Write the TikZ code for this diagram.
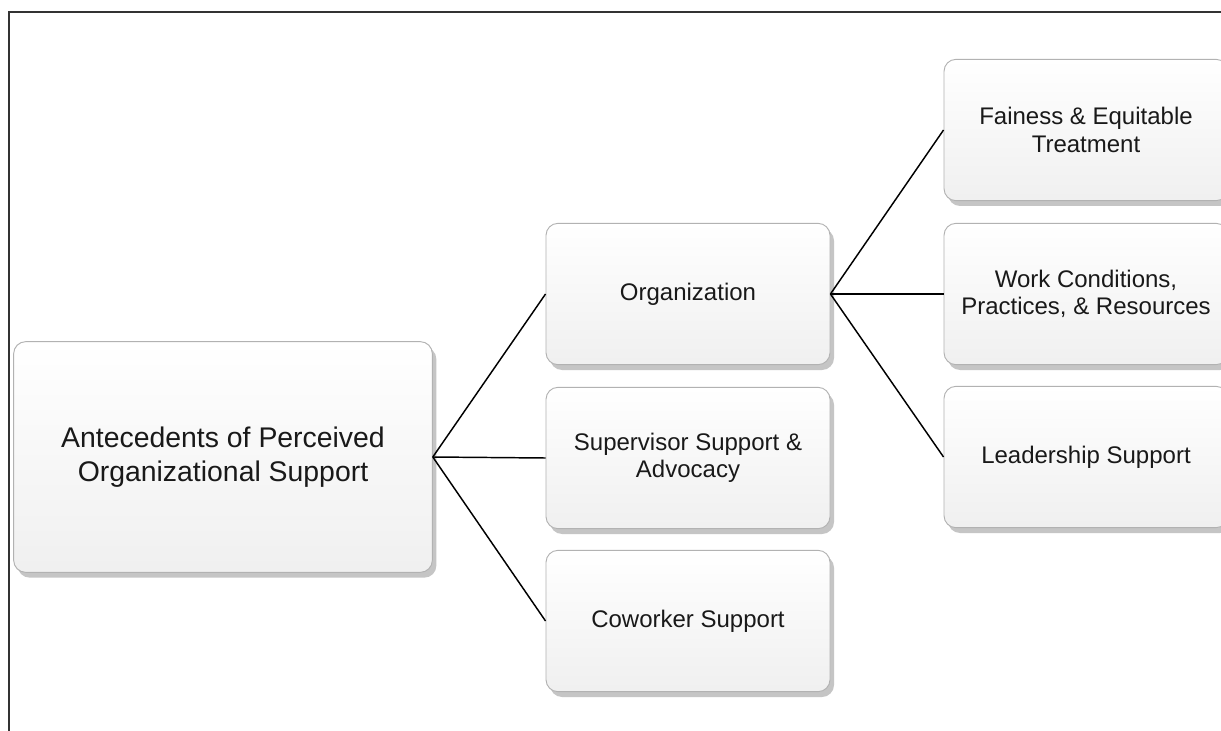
\documentclass[tikz,border=0pt]{standalone}
\usepackage{fontspec}
\setmainfont{Liberation Sans}
\usepackage{tikz}
\usetikzlibrary{shadows}

\begin{document}
\begin{tikzpicture}[x=0.75pt,y=-0.75pt,
  card/.style={draw=gray!60, line width=0.7pt, rounded corners=9pt,
    top color=white, bottom color=gray!12, text=black!90, align=center,
    minimum width=213pt, minimum height=106pt, font=\fontsize{18}{20.5}\selectfont,
    drop shadow={shadow xshift=3pt, shadow yshift=-4pt, opacity=0.6, fill=gray!75}},
  bigcard/.style={card, minimum width=314pt, minimum height=173pt,
    font=\fontsize{21.3}{25}\selectfont},
  link/.style={draw=black, line width=1.1pt}]
  \useasboundingbox (0,0) rectangle (1221,731);
  \fill[white] (0,0) rectangle (1221,731);
  \draw[black!80, line width=0.9pt] (9,731) -- (9,12) -- (1221,12);

  % Root
  \node[bigcard] (root) at (223,457) {Antecedents of Perceived\\Organizational Support};

  % Second level
  \node[card] (org) at (688,294) {Organization};
  \node[card] (sup) at (688,458) {Supervisor Support \&\\Advocacy};
  \node[card] (cow) at (688,621) {Coworker Support};

  % Third level
  \node[card] (fair) at (1086,130) {Fainess \& Equitable\\Treatment};
  \node[card] (work) at (1086,294) {Work Conditions,\\Practices, \& Resources};
  \node[card] (lead) at (1086,457) {Leadership Support};

  % Connections
  \draw[link] (root.east) -- (org.west);
  \draw[link] (root.east) -- (sup.west);
  \draw[link] (root.east) -- (cow.west);
  \draw[link] (org.east) -- (fair.west);
  \draw[link] (org.east) -- (work.west);
  \draw[link] (org.east) -- (lead.west);
\end{tikzpicture}
\end{document}
